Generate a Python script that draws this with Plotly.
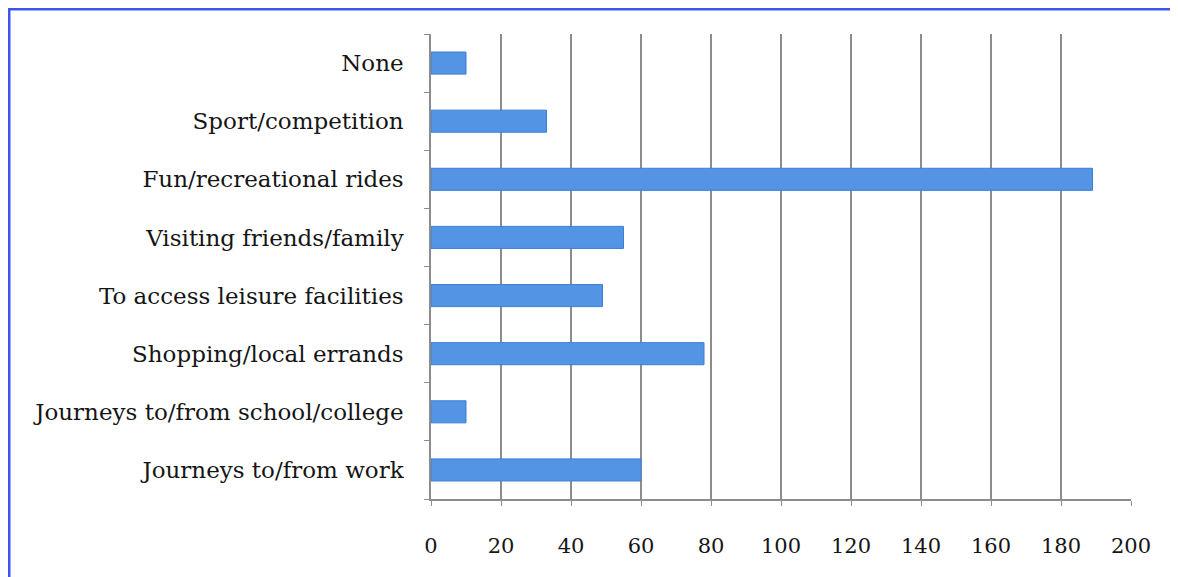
import plotly.graph_objects as go

categories = [
    "Journeys to/from work",
    "Journeys to/from school/college",
    "Shopping/local errands",
    "To access leisure facilities",
    "Visiting friends/family",
    "Fun/recreational rides",
    "Sport/competition",
    "None",
]
values = [60, 10, 78, 49, 55, 189, 33, 10]
x_ticks = [0, 20, 40, 60, 80, 100, 120, 140, 160, 180, 200]

# page is offset by 8px body margin
W, H = 1170, 569
ml, mt = 423, 26
pw, ph = 700, 465
mr = W - ml - pw
mb = H - mt - ph

fig = go.Figure()
fig.add_trace(go.Bar(
    x=values, y=categories, orientation="h",
    marker=dict(color="#5394E4", line=dict(color="#3F7FD4", width=1)),
    width=0.38,
))

fig.add_shape(type="rect", xref="paper", yref="paper",
              x0=(1 - ml) / pw, x1=(W + 10 - ml) / pw,
              y0=-(mb + 10) / ph, y1=1 + (mt - 1) / ph,
              line=dict(color="#3E55F0", width=3), layer="above")

label_font = dict(family="DejaVu Serif", size=23, color="#151515")
tick_font = dict(family="DejaVu Serif", size=21, color="#151515")
fig.update_layout(
    width=W, height=H,
    margin=dict(l=ml, r=mr, t=mt, b=mb),
    paper_bgcolor="white", plot_bgcolor="white",
    showlegend=False,
    font=label_font,
    xaxis=dict(range=[0, 200], tickvals=x_ticks, showgrid=True,
               gridcolor="#8C8C8C", gridwidth=1.5,
               showline=True, linecolor="#8C8C8C", linewidth=1.5,
               ticks="outside", ticklen=5, tickcolor="#8C8C8C",
               zeroline=False, tickfont=tick_font, ticklabelstandoff=22),
    yaxis=dict(showline=True, linecolor="#8C8C8C", linewidth=1.5,
               ticks="outside", ticklen=5, tickcolor="#8C8C8C",
               tickson="boundaries", showgrid=False,
               tickfont=label_font, ticklabelstandoff=21),
)

fig.write_html("out.html")
